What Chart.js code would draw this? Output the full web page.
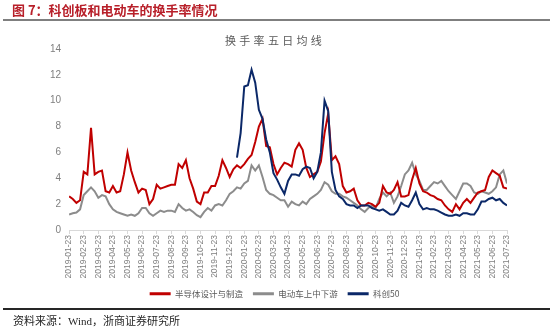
<!DOCTYPE html>
<html>
<head>
<meta charset="utf-8">
<title>换手率五日均线</title>
<script src="https://cdn.jsdelivr.net/npm/chart.js@4.4.1/dist/chart.umd.min.js"></script>
<style>
  html, body { margin: 0; padding: 0; background: #fff; }
  #wrap { position: relative; width: 550px; height: 330px; overflow: hidden; font-family: "Noto Sans CJK SC", sans-serif; }
  #turnoverChart { position: absolute; left: 0; top: 0; }
  #figTitle { position: absolute; left: 12px; top: 0px; font-size: 13px; font-weight: bold; color: #b8202a; white-space: nowrap; }
  #ruleTop { position: absolute; left: 3px; right: 0; top: 19px; height: 2px; background: #7f7f7f; }
  #chartTitle { position: absolute; left: 225px; top: 32px; font-size: 11px; letter-spacing: 3.3px; color: #595959; white-space: nowrap; }
  #ruleBottom { position: absolute; left: 3px; right: 0; top: 308px; height: 2px; background: #262626; }
  #source { position: absolute; left: 13px; top: 312px; font-size: 11px; color: #262626; white-space: nowrap; font-family: "Liberation Serif", "Noto Sans CJK SC", serif; }
</style>
</head>
<body>
<div id="wrap">
  <canvas id="turnoverChart" width="550" height="330"></canvas>
  <div id="figTitle">图 7：科创板和电动车的换手率情况</div>
  <div id="ruleTop"></div>
  <div id="chartTitle">换手率五日均线</div>
  <div id="ruleBottom"></div>
  <div id="source">资料来源：Wind，浙商证券研究所</div>
</div>
<script>
// month ticks on the x axis, one per month
const tickLabels = [
  '2019-01-23', '2019-02-23', '2019-03-23', '2019-04-23', '2019-05-23', '2019-06-23',
  '2019-07-23', '2019-08-23', '2019-09-23', '2019-10-23', '2019-11-23', '2019-12-23',
  '2020-01-23', '2020-02-23', '2020-03-23', '2020-04-23', '2020-05-23', '2020-06-23',
  '2020-07-23', '2020-08-23', '2020-09-23', '2020-10-23', '2020-11-23', '2020-12-23',
  '2021-01-23', '2021-02-23', '2021-03-23', '2021-04-23', '2021-05-23', '2021-06-23',
  '2021-07-23'
];

// readings are taken every quarter month
const STEP = 0.25;

// 半导体设计与制造, from 2019-01-23
const semiconductor = [
  2.6, 2.4, 2.1, 2.3, 4.5, 4.3, 7.9, 4.3, 4.5, 4.6,
  3.0, 2.9, 3.4, 2.9, 3.0, 4.3, 6.0, 4.6, 3.7, 2.9,
  3.2, 3.1, 2.0, 2.4, 3.5, 3.2, 3.3, 3.4, 3.5, 3.5,
  5.1, 4.8, 5.4, 4.0, 3.2, 2.2, 2.0, 2.9, 2.9, 3.4,
  3.4, 4.2, 5.4, 4.8, 4.1, 4.7, 5.0, 4.8, 5.1, 5.5,
  5.8, 6.8, 8.0, 8.6, 6.5, 6.4, 5.1, 4.3, 4.8, 5.2,
  5.1, 4.9, 6.2, 6.7, 6.2, 4.8, 4.1, 4.3, 4.5, 5.3,
  7.5, 9.0, 5.4, 5.7, 5.1, 3.4, 2.9, 3.0, 3.2, 2.3,
  1.9, 1.9, 2.1, 2.0, 1.8, 2.1, 3.4, 2.9, 2.8, 3.1,
  3.7, 2.6, 2.6, 2.7, 3.9, 4.8, 3.6, 3.0, 2.9, 2.7,
  2.6, 2.4, 2.3, 1.9, 1.6, 1.4, 2.0, 1.6, 2.1, 2.4,
  2.1, 2.5, 2.9, 3.0, 3.1, 4.1, 4.6, 4.4, 4.2, 3.3, 3.2
];

// 电动车上中下游, from 2019-01-23
const evChain = [
  1.2, 1.3, 1.35, 1.6, 2.7, 3.0, 3.3, 3.0, 2.5, 2.7,
  2.6, 2.0, 1.6, 1.4, 1.3, 1.2, 1.1, 1.2, 1.1, 1.3,
  1.7, 1.7, 1.3, 1.1, 1.3, 1.5, 1.4, 1.5, 1.5, 1.4,
  2.0, 1.7, 1.5, 1.6, 1.4, 1.15, 1.0, 1.4, 1.7, 1.5,
  1.9, 2.0, 1.9, 2.3, 2.8, 3.0, 3.3, 3.2, 3.6, 3.8,
  5.0, 4.6, 5.0, 4.1, 3.1, 2.8, 2.7, 2.5, 2.3, 2.3,
  1.8, 2.2, 2.0, 1.9, 2.2, 2.0, 2.4, 2.6, 2.8, 3.1,
  3.7, 3.5, 3.0, 2.8, 2.8, 2.6, 2.5, 2.3, 2.1, 1.9,
  1.6, 1.4, 1.7, 1.9, 1.7, 2.4, 2.9, 2.6, 2.9, 2.1,
  2.6, 3.4, 4.3, 4.6, 5.2, 4.3, 3.8, 3.1, 3.1, 3.4,
  3.7, 3.6, 3.8, 3.4, 3.0, 2.7, 2.4, 3.0, 3.6, 3.6,
  3.4, 2.9, 2.8, 3.0, 2.9, 2.8, 3.0, 3.3, 4.3, 4.6, 3.6
];

// 科创50 only starts in late December 2019
const star50Start = 11.5;
const star50 = [
  5.6, 7.5, 11.1, 11.2,
  12.4, 11.4, 9.3, 8.6, 7.0, 6.0, 4.4, 3.9, 3.3, 2.8,
  3.8, 4.3, 4.3, 4.2, 4.7, 4.9, 4.8, 4.0, 4.5, 6.0,
  10.0, 9.2, 4.5, 3.1, 2.6, 2.4, 2.0, 1.9, 1.9, 1.7,
  1.9, 1.9, 1.9, 1.7, 1.6, 1.5, 1.6, 1.4, 1.2, 1.2,
  1.5, 2.1, 1.9, 1.8, 2.3, 2.9, 2.0, 1.6, 1.7, 1.6,
  1.6, 1.5, 1.35, 1.2, 1.1, 1.1, 1.2, 1.1, 1.3, 1.3,
  1.2, 1.2, 1.6, 2.2, 2.2, 2.4, 2.5, 2.3, 2.4, 2.1, 1.9
];

function toPoints(values, start) {
  return values.map((v, i) => ({ x: start + i * STEP, y: v }));
}

function series(label, values, start, color, order) {
  return {
    label: label,
    data: toPoints(values, start),
    borderColor: color,
    backgroundColor: color,
    borderWidth: 2,
    pointRadius: 0,
    tension: 0,
    fill: false,
    order: order
  };
}

const ctx = document.getElementById('turnoverChart').getContext('2d');
new Chart(ctx, {
  type: 'line',
  data: {
    datasets: [
      series('半导体设计与制造', semiconductor, 0, '#c00000', 1),
      series('电动车上中下游', evChain, 0, '#8c8c8c', 2),
      series('科创50', star50, star50Start, '#0b2868', 0)
    ]
  },
  options: {
    responsive: false,
    animation: false,
    layout: {
      autoPadding: false,
      padding: { left: 42, right: 43, top: 49, bottom: 22 }
    },
    plugins: {
      title: { display: false },
      tooltip: { enabled: false },
      legend: {
        display: true,
        position: 'bottom',
        labels: {
          boxWidth: 21,
          boxHeight: 3,
          padding: 10,
          color: '#595959',
          font: { family: '"Noto Sans CJK SC", sans-serif', size: 8.5 },
          sort: (a, b) => a.datasetIndex - b.datasetIndex,
          generateLabels: (chart) => {
            const items = Chart.defaults.plugins.legend.labels.generateLabels(chart);
            items.forEach(it => { it.lineWidth = 0; });
            return items;
          }
        }
      }
    },
    scales: {
      x: {
        type: 'linear',
        min: 0,
        max: tickLabels.length - 1,
        grid: {
          drawOnChartArea: false,
          drawTicks: true,
          tickLength: 4,
          color: '#d9d9d9'
        },
        border: { color: '#d9d9d9' },
        ticks: {
          stepSize: 1,
          autoSkip: false,
          minRotation: 90,
          maxRotation: 90,
          padding: 1,
          color: '#7f7f7f',
          font: { family: '"Liberation Sans", Arial, sans-serif', size: 8.5 },
          callback: (value) => tickLabels[value]
        }
      },
      y: {
        min: 0,
        max: 14,
        grid: { display: false, drawTicks: false },
        border: { display: false },
        ticks: {
          stepSize: 2,
          padding: 8,
          color: '#7f7f7f',
          font: { family: '"Liberation Sans", Arial, sans-serif', size: 10 }
        }
      }
    }
  }
});
</script>
</body>
</html>
